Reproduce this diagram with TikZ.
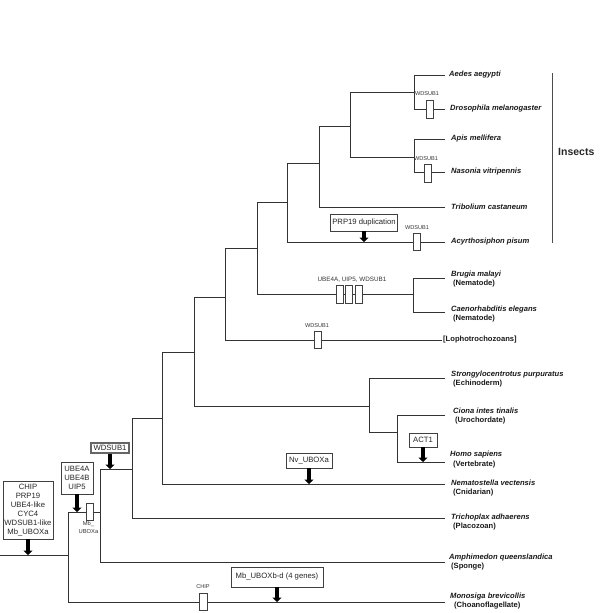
\documentclass[tikz,border=0pt]{standalone}
\usepackage{fontspec}
\setmainfont{Liberation Sans}
\usetikzlibrary{arrows.meta}
\begin{document}
\begin{tikzpicture}[x=1pt,y=-1pt,
  branch/.style={draw=black!80, line width=0.8pt},
  taxon/.style={anchor=west, inner sep=0pt, text=black!90, font=\fontsize{7.6}{8.5}\selectfont\bfseries\itshape},
  group/.style={anchor=west, inner sep=0pt, text=black!90, font=\fontsize{7.6}{8.5}\selectfont\bfseries},
  tick/.style={draw=black!75, fill=white, line width=0.7pt, minimum width=7pt, minimum height=17pt, inner sep=0pt},
  ticklabel/.style={inner sep=0pt, font=\fontsize{5.6}{6.4}\selectfont, text=black!80},
  evbox/.style={draw=black!75, fill=white, line width=0.8pt, inner sep=1pt, align=center, font=\fontsize{7.7}{9}\selectfont, text=black!85},
  evarrow/.style={draw=black, line width=3.4pt, -{Triangle[width=9pt,length=4.5pt]}},
]
\useasboundingbox (0,0) rectangle (600,613);

% leaves (ends of terminal branches)
\coordinate (aed) at (445,75);
\coordinate (dro) at (445,109);
\coordinate (api) at (445,139);
\coordinate (nas) at (445,172);
\coordinate (tri) at (445,207);
\coordinate (acy) at (445,242);
\coordinate (bru) at (445,278);
\coordinate (cae) at (445,312);
\coordinate (lop) at (442,340);
\coordinate (str) at (445,378);
\coordinate (cio) at (445,415);
\coordinate (hom) at (445,462);
\coordinate (nem) at (445,484);
\coordinate (trc) at (445,518);
\coordinate (amp) at (445,562);
\coordinate (mon) at (445,602);

% internal nodes
\coordinate (n1) at (414,92);
\coordinate (n2) at (414,157);
\coordinate (n3) at (350,126);
\coordinate (n4) at (319,163);
\coordinate (n5) at (287,202);
\coordinate (n6) at (413,294);
\coordinate (n7) at (257,248);
\coordinate (n8) at (225,297);
\coordinate (n9) at (397,432);
\coordinate (n10) at (369,406);
\coordinate (n11) at (194,352);
\coordinate (n12) at (162,418);
\coordinate (n13) at (132,469);
\coordinate (n14) at (100,512);
\coordinate (n15) at (68,555);
\coordinate (root) at (0,555);

% branches
\draw[branch] (n1) |- (aed) (n1) |- (dro);
\draw[branch] (n2) |- (api) (n2) |- (nas);
\draw[branch] (n3) |- (n1) (n3) |- (n2);
\draw[branch] (n4) |- (n3) (n4) |- (tri);
\draw[branch] (n5) |- (n4) (n5) |- (acy);
\draw[branch] (n6) |- (bru) (n6) |- (cae);
\draw[branch] (n7) |- (n5) (n7) |- (n6);
\draw[branch] (n8) |- (n7) (n8) |- (lop);
\draw[branch] (n9) |- (cio) (n9) |- (hom);
\draw[branch] (n10) |- (str) (n10) |- (n9);
\draw[branch] (n11) |- (n8) (n11) |- (n10);
\draw[branch] (n12) |- (n11) (n12) |- (nem);
\draw[branch] (n13) |- (n12) (n13) |- (trc);
\draw[branch] (n14) |- (n13) (n14) |- (amp);
\draw[branch] (n15) |- (n14) (n15) |- (mon);
\draw[branch] (root) -- (n15);

% insects bar
\coordinate (barTop) at (552,73);
\coordinate (barBot) at (552,243);
\draw[draw=black!70, line width=0.8pt] (barTop) -- (barBot);
\node[anchor=west, inner sep=0pt, font=\fontsize{10.5}{12}\selectfont\bfseries, text=black!85] (insects) at (558,152) {Insects};

% taxon labels
\node[taxon] (tAed) at (449,75) {Aedes aegypti};
\node[taxon] (tDro) at (450,109) {Drosophila melanogaster};
\node[taxon] (tApi) at (451,139) {Apis mellifera};
\node[taxon] (tNas) at (451,172) {Nasonia vitripennis};
\node[taxon] (tTri) at (451,207) {Tribolium castaneum};
\node[taxon] (tAcy) at (451,242) {Acyrthosiphon pisum};
\node[taxon] (tBru) at (451,275) {Brugia malayi};
\node[group] (gBru) at (453,284) {(Nematode)};
\node[taxon] (tCae) at (451,310) {Caenorhabditis elegans};
\node[group] (gCae) at (453,319) {(Nematode)};
\node[group] (tLop) at (443,340) {[Lophotrochozoans]};
\node[taxon] (tStr) at (451,375) {Strongylocentrotus purpuratus};
\node[group] (gStr) at (453,384) {(Echinoderm)};
\node[taxon] (tCio) at (453,411) {Ciona intes tinalis};
\node[group] (gCio) at (455,421) {(Urochordate)};
\node[taxon] (tHom) at (450,455) {Homo sapiens};
\node[group] (gHom) at (453,465) {(Vertebrate)};
\node[taxon] (tNem) at (451,483) {Nematostella vectensis};
\node[group] (gNem) at (453,493) {(Cnidarian)};
\node[taxon] (tTrc) at (451,517.5) {Trichoplax adhaerens};
\node[group] (gTrc) at (453,527) {(Placozoan)};
\node[taxon] (tAmp) at (449,558) {Amphimedon queenslandica};
\node[group] (gAmp) at (451,567) {(Sponge)};
\node[taxon] (tMon) at (450,597) {Monosiga brevicollis};
\node[group] (gMon) at (454,606) {(Choanoflagellate)};

% small loss/gain ticks
\node[tick, minimum height=18pt] (kDro) at (430,109) {};
\node[ticklabel] (lDro) at (427,93.5) {WDSUB1};
\node[tick, minimum height=18pt] (kNas) at (428,173) {};
\node[ticklabel] (lNas) at (426,159) {WDSUB1};
\node[tick] (kAcy) at (417,242) {};
\node[ticklabel] (lAcy) at (417,228) {WDSUB1};
\node[tick, minimum height=18pt] (kNe1) at (339.5,294) {};
\node[tick, minimum height=18pt] (kNe2) at (349,294) {};
\node[tick, minimum height=18pt] (kNe3) at (358.5,294) {};
\node[ticklabel, font=\fontsize{6.3}{7}\selectfont] (lNem) at (352,280) {UBE4A, UIP5, WDSUB1};
\node[tick] (kLop) at (318,340) {};
\node[ticklabel] (lLop) at (317,326) {WDSUB1};
\node[tick, minimum width=6.5pt] (kMb) at (90,511.5) {};
\node[ticklabel, align=center, font=\fontsize{5.8}{8}\selectfont] (lMb) at (88.5,527) {Mb\_\\UBOXa};
\node[tick, minimum width=8pt] (kChip) at (203,602) {};
\node[ticklabel] (lChip) at (203,587) {CHIP};

% event boxes with arrows
\node[evbox, minimum width=67pt, minimum height=17pt] (bPRP) at (364,222.5) {PRP19 duplication};
\coordinate (aPRP) at (364,242);
\draw[evarrow] (bPRP.south) -- (aPRP);

\node[evbox, minimum width=28pt, minimum height=14pt] (bACT) at (423,440) {ACT1};
\coordinate (aACT) at (423,462);
\draw[evarrow] (bACT.south) -- (aACT);

\node[evbox, minimum width=46pt, minimum height=15pt] (bNv) at (309,460.5) {Nv\_UBOXa};
\coordinate (aNv) at (309,484);
\draw[evarrow] (bNv.south) -- (aNv);

\node[evbox, minimum width=92pt, minimum height=20pt] (bMbb) at (277,577) {Mb\_UBOXb-d (4 genes)};
\coordinate (aMbb) at (277,602);
\draw[evarrow] (bMbb.south) -- (aMbb);

\node[evbox, minimum width=38pt, minimum height=10pt, inner sep=0.5pt, line width=1.2pt, draw=black!60] (bWD) at (110,448) {WDSUB1};
\coordinate (aWD) at (110,469);
\draw[evarrow] (bWD.south) -- (aWD);

\node[evbox, minimum width=32pt, minimum height=32pt] (bUBE) at (77,478) {UBE4A\\UBE4B\\UIP5};
\coordinate (aUBE) at (77,512);
\draw[evarrow] (bUBE.south) -- (aUBE);

\node[evbox, minimum width=50pt, minimum height=58pt, inner sep=0.5pt] (bCHIP) at (28,510) {CHIP\\PRP19\\UBE4-like\\CYC4\\WDSUB1-like\\Mb\_UBOXa};
\coordinate (aCHIP) at (28,555);
\draw[evarrow] (bCHIP.south) -- (aCHIP);

\end{tikzpicture}
\end{document}
